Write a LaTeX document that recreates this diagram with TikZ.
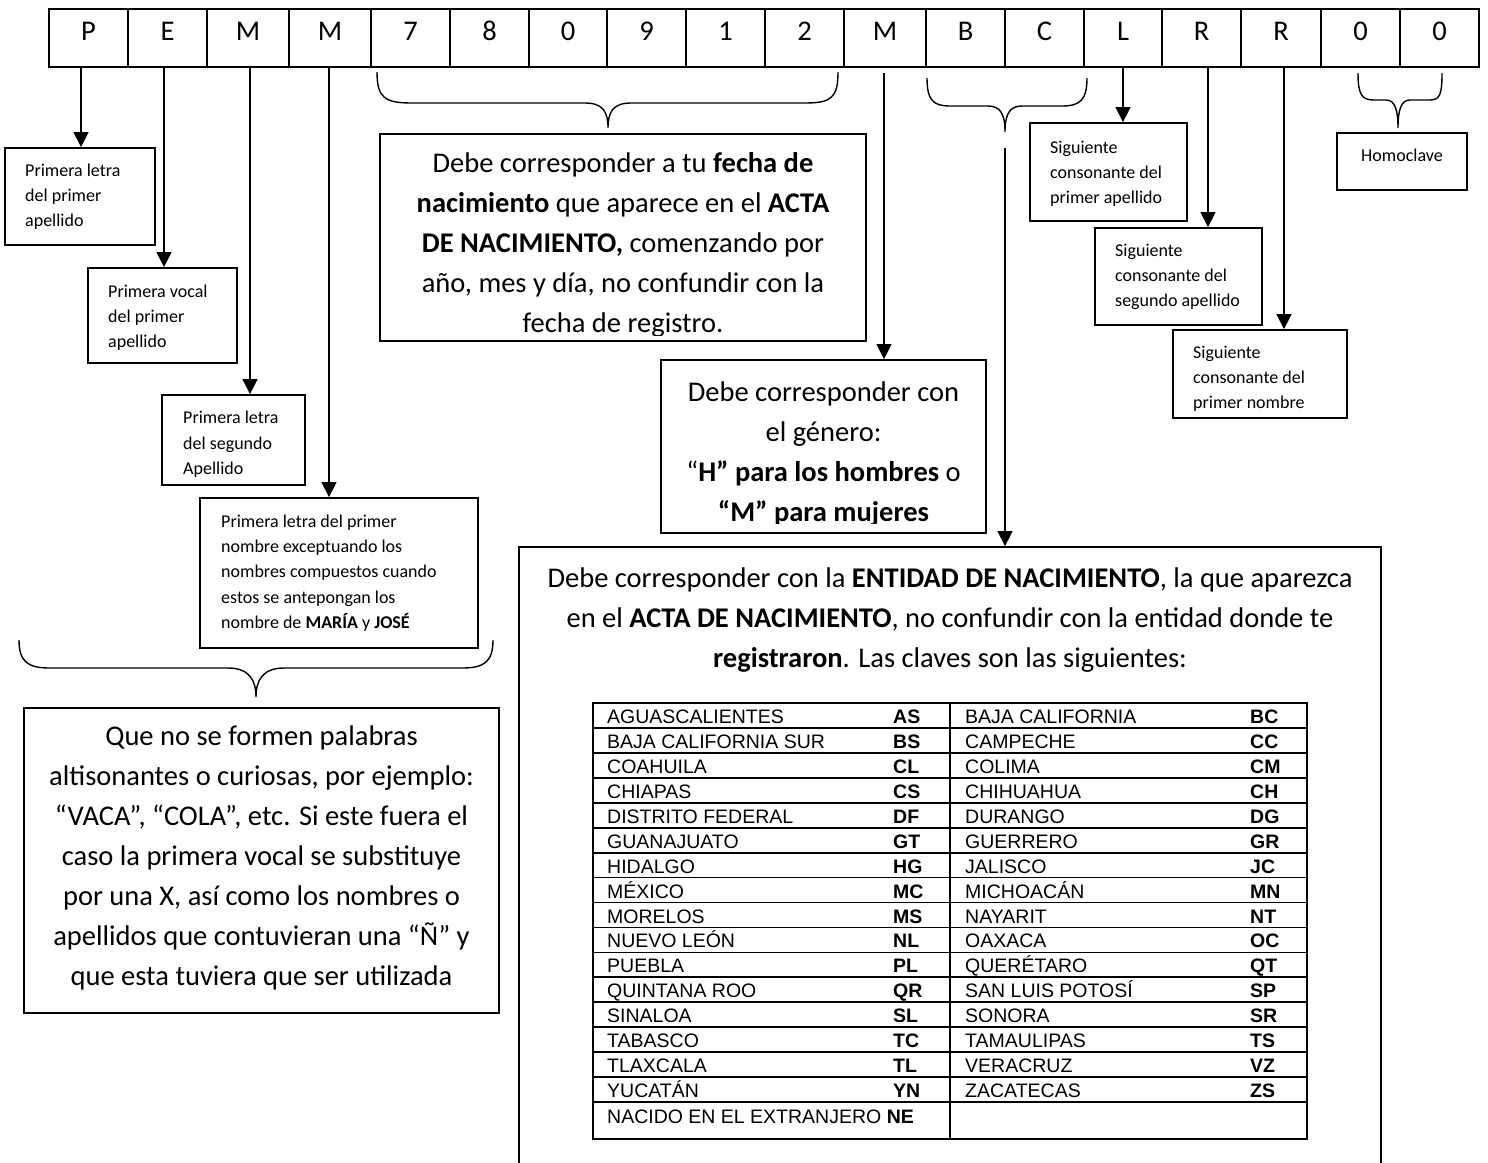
\documentclass[tikz,border=0pt]{standalone}
\usepackage{fontspec}
\setmainfont{Carlito}
\newfontfamily\arialf{Liberation Sans}
\usetikzlibrary{arrows.meta}
\newcommand\mybox[5]{\node[box, minimum width={#4-#2}, minimum height={#5-#3}] (#1) at ({(#2+#4)/2},{(#3+#5)/2}) {};}
\begin{document}
\begin{tikzpicture}[x=1pt,y=-1pt,
  box/.style={draw, line width=1.8pt, inner sep=0pt},
  cell/.style={draw, line width=1.8pt, inner sep=0pt, minimum height=58pt, text height=20pt, text depth=16pt, font=\fontsize{28.5}{34}\selectfont},
  arr/.style={line width=1.4pt, -{Triangle[width=15pt,length=15pt]}},
  brace/.style={line width=1.4pt},
  small/.style={inner sep=0pt, align=left, anchor=north west, font=\fontsize{18}{25.4}\selectfont},
  big/.style={inner sep=0pt, align=center, anchor=north, font=\fontsize{28.5}{40}\selectfont},
  tab/.style={inner sep=0pt, anchor=base west, font=\arialf\fontsize{19.5}{22}\selectfont},
  tabline/.style={line width=1.8pt}]
\useasboundingbox[fill=white] (0,0) rectangle (1488,1162);

% ---- code cells
\foreach \l/\r/\t [count=\i] in {49/128/P,128/207/E,207/289/M,289/371/M,371/450/7,450/529/8,529/607/0,607/686/9,686/765/1,765/844/2,844/926/M,926/1005/B,1005/1084/C,1084/1162/L,1162/1241/R,1241/1321/R,1321/1400/0,1400/1479/0}
  \node[cell, minimum width={\r-\l}] (c\i) at ({(\l+\r)/2},38) {\t};

% ---- boxes
\mybox{b1}{5}{148}{155}{245}
\mybox{b2}{88}{268}{237}{363}
\mybox{b3}{162}{395}{305}{485}
\mybox{b4}{200}{498}{478}{648}
\mybox{bq}{24}{708}{499}{1013}
\mybox{bf}{380}{134}{866}{341}
\mybox{bg}{661}{360}{986}{533}
\mybox{r1}{1030}{123}{1187}{221}
\mybox{r2}{1095}{228}{1262}{325}
\mybox{r3}{1173}{330}{1347}{418}
\mybox{bh}{1337}{133}{1467}{190}
\mybox{ent}{519}{547}{1381}{1250}

% ---- box texts (first baseline = anchor y + strut height)
\node[small] (t1) at (25,158.2) {\strut Primera letra\\del primer\\apellido};
\node[small] (t2) at (108,279.2) {\strut Primera vocal\\del primer\\apellido};
\begin{scope}
\clip (b3.north west) rectangle ([yshift=9pt]b3.south east);
\node[small] (t3) at (183,405.7) {\strut Primera letra\\del segundo\\Apellido};
\end{scope}
\node[small] (t4) at (221,509.2) {\strut Primera letra del primer\\nombre exceptuando los\\nombres compuestos cuando\\estos se antepongan los\\nombre de \textbf{MARÍA} y \textbf{JOSÉ}};
\node[small] (tr1) at (1050,135.2) {\strut Siguiente\\consonante del\\primer apellido};
\node[small] (tr2) at (1115,238.2) {\strut Siguiente\\consonante del\\segundo apellido};
\begin{scope}
\clip (r3.north west) rectangle ([yshift=8pt]r3.south east);
\node[small] (tr3) at (1193,340.2) {\strut Siguiente\\consonante del\\primer nombre};
\end{scope}
\node[inner sep=0pt, anchor=base, font=\fontsize{18}{25.4}\selectfont] (th) at (1402,161) {Homoclave};

\begin{scope}
\clip (bf.north west) rectangle ([yshift=6pt]bf.south east);
\node[big] (tf) at (623,144) {\strut Debe corresponder a tu \textbf{fecha de}\\\textbf{nacimiento} que aparece en el \textbf{ACTA}\\\textbf{DE NACIMIENTO,} comenzando por\\año, mes y día, no confundir con la\\fecha de registro.};
\end{scope}
\begin{scope}
\clip (bg.north west) rectangle ([yshift=10pt]bg.south east);
\node[big] (tg) at (823.5,373) {\strut Debe corresponder con\\el género:\\“\textbf{H” para los hombres} o\\\textbf{“M” para mujeres}};
\end{scope}
\node[big] (tq) at (261.5,717) {\strut Que no se formen palabras\\altisonantes o curiosas, por ejemplo:\\“VACA”, “COLA”, etc. Si este fuera el\\caso la primera vocal se substituye\\por una X, así como los nombres o\\apellidos que contuvieran una “Ñ” y\\que esta tuviera que ser utilizada};
\node[big] (te) at (950,559) {\strut Debe corresponder con la \textbf{ENTIDAD DE NACIMIENTO}, la que aparezca\\en el \textbf{ACTA DE NACIMIENTO}, no confundir con la entidad donde te\\\textbf{registraron}. Las claves son las siguientes:};

% ---- arrows
\coordinate (aP) at (81,67);
\coordinate (aE) at (164,67);
\coordinate (aM1) at (250,67);
\coordinate (aM2) at (329,67);
\coordinate (aG) at (884,73);
\coordinate (aL) at (1123,67);
\coordinate (aR1) at (1208,67);
\coordinate (aR2) at (1284,67);
\coordinate (aEnt) at (1005,148);
\draw[arr] (aP) -- (aP |- b1.north);
\draw[arr] (aE) -- (aE |- b2.north);
\draw[arr] (aM1) -- (aM1 |- b3.north);
\draw[arr] (aM2) -- (aM2 |- b4.north);
\draw[arr] (aG) -- (aG |- bg.north);
\draw[arr] (aL) -- (aL |- r1.north);
\draw[arr] (aR1) -- (aR1 |- r2.north);
\draw[arr] (aR2) -- (aR2 |- r3.north);
\draw[arr] (aEnt) -- (aEnt |- ent.north);

% ---- braces
\draw[brace] (377,72) .. controls (377,98) and (385,103) .. (412,103) -- (585,103) .. controls (603,103) and (608,112) .. (608,128) .. controls (608,112) and (613,103) .. (631,103) -- (805,103) .. controls (831,103) and (838,98) .. (838,72);
\draw[brace] (927,78) .. controls (927,100) and (933,106) .. (950,106) -- (988,106) .. controls (1001,106) and (1005,115) .. (1005,132) .. controls (1005,115) and (1009,106) .. (1022,106) -- (1062,106) .. controls (1080,106) and (1087,100) .. (1087,78);
\draw[brace] (1358,73) .. controls (1358,95) and (1362,100) .. (1374,100) -- (1386,100) .. controls (1395,100) and (1398,110) .. (1398,128) .. controls (1398,110) and (1401,100) .. (1410,100) -- (1430,100) .. controls (1440,100) and (1442,94) .. (1442,73);
\draw[brace] (19,640) .. controls (19,662) and (28,668) .. (50,668) -- (228,668) .. controls (249,668) and (256,680) .. (256,697) .. controls (256,680) and (263,668) .. (284,668) -- (462,668) .. controls (484,668) and (493,662) .. (493,640);

% ---- table
\draw[tabline] (593,703) rectangle (1307,1139);
\foreach \k in {1,...,16} \draw[tabline] (593,{703+\k*24.94}) -- (1307,{703+\k*24.94});
\draw[tabline] (950,703) -- (950,1139);
\foreach \n/\c/\m/\d [count=\i from 0] in {AGUASCALIENTES/AS/BAJA CALIFORNIA/BC,BAJA CALIFORNIA SUR/BS/CAMPECHE/CC,COAHUILA/CL/COLIMA/CM,CHIAPAS/CS/CHIHUAHUA/CH,DISTRITO FEDERAL/DF/DURANGO/DG,GUANAJUATO/GT/GUERRERO/GR,HIDALGO/HG/JALISCO/JC,MÉXICO/MC/MICHOACÁN/MN,MORELOS/MS/NAYARIT/NT,NUEVO LEÓN/NL/OAXACA/OC,PUEBLA/PL/QUERÉTARO/QT,QUINTANA ROO/QR/SAN LUIS POTOSÍ/SP,SINALOA/SL/SONORA/SR,TABASCO/TC/TAMAULIPAS/TS,TLAXCALA/TL/VERACRUZ/VZ,YUCATÁN/YN/ZACATECAS/ZS}{
  \node[tab] (ln\i) at (607,{723.5+\i*24.94}) {\n};
  \node[tab] (lc\i) at (893,{723.5+\i*24.94}) {\textbf{\c}};
  \node[tab] (rn\i) at (965,{723.5+\i*24.94}) {\m};
  \node[tab] (rc\i) at (1250,{723.5+\i*24.94}) {\textbf{\d}};
}
\node[tab] (lnx) at (607,1123.5) {NACIDO EN EL EXTRANJERO \textbf{NE}};
\end{tikzpicture}
\end{document}
